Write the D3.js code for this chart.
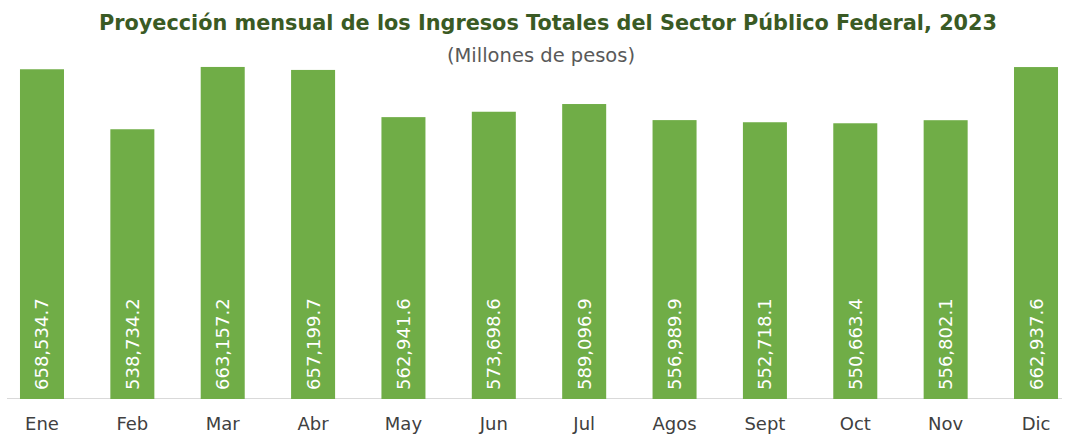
<!DOCTYPE html>
<html><head><meta charset="utf-8">
<script src="https://cdn.jsdelivr.net/npm/d3@7"></script>
<style>body{margin:0;background:#fff}svg{display:block}</style>
</head><body>
<script>
const months = ["Ene","Feb","Mar","Abr","May","Jun","Jul","Agos","Sept","Oct","Nov","Dic"];
const values = [658534.7,538734.2,663157.2,657199.7,562941.6,573698.6,589096.9,556989.9,552718.1,550663.4,556802.1,662937.6];
const title = "Proyección mensual de los Ingresos Totales del Sector Público Federal, 2023";
const subtitle = "(Millones de pesos)";

const W = 1065, H = 434;
const svg = d3.select("body").append("svg").attr("width", W).attr("height", H);
const font = "'DejaVu Sans', sans-serif";

const x = d3.scaleBand().domain(months).range([-3.2, 1081.2]).paddingInner(0.513).paddingOuter(0.2565);
const y = d3.scaleLinear().domain([0, 700000]).range([399, 48.5]);

svg.append("line").attr("x1", 7).attr("x2", 1062).attr("y1", 398.5).attr("y2", 398.5)
  .attr("stroke", "#d9d9d9").attr("stroke-width", 1);

svg.selectAll("rect.bar").data(values).join("rect").attr("class","bar")
  .attr("x", (d,i) => x(months[i])).attr("width", x.bandwidth())
  .attr("y", d => y(d)).attr("height", d => y(0) - y(d))
  .attr("fill", "#70ad47");

const fmt = d3.format(",.1f");
svg.selectAll("text.val").data(values).join("text").attr("class","val")
  .attr("transform", (d,i) => `translate(${x(months[i]) + x.bandwidth()/2 + 6.5},390) rotate(-90)`)
  .attr("fill", "#fff").attr("font-family", font).attr("font-size", 18)
  .text(d => fmt(d));

const xAxis = d3.axisBottom(x).tickSize(0).tickPadding(0);
const gx = svg.append("g").attr("transform", "translate(0,399)").call(xAxis);
gx.select(".domain").remove();
gx.selectAll("text").attr("font-family", font).attr("font-size", 18).attr("fill", "#404040")
  .attr("dy", null).attr("y", 31);

svg.append("text").attr("x", 548).attr("y", 30).attr("text-anchor", "middle")
  .attr("font-family", font).attr("font-weight", "bold").attr("font-size", 20.8)
  .attr("fill", "#3a5a24").text(title);
svg.append("text").attr("x", 541).attr("y", 62).attr("text-anchor", "middle")
  .attr("font-family", font).attr("font-size", 19.5).attr("fill", "#595959").text(subtitle);
</script>
</body></html>
